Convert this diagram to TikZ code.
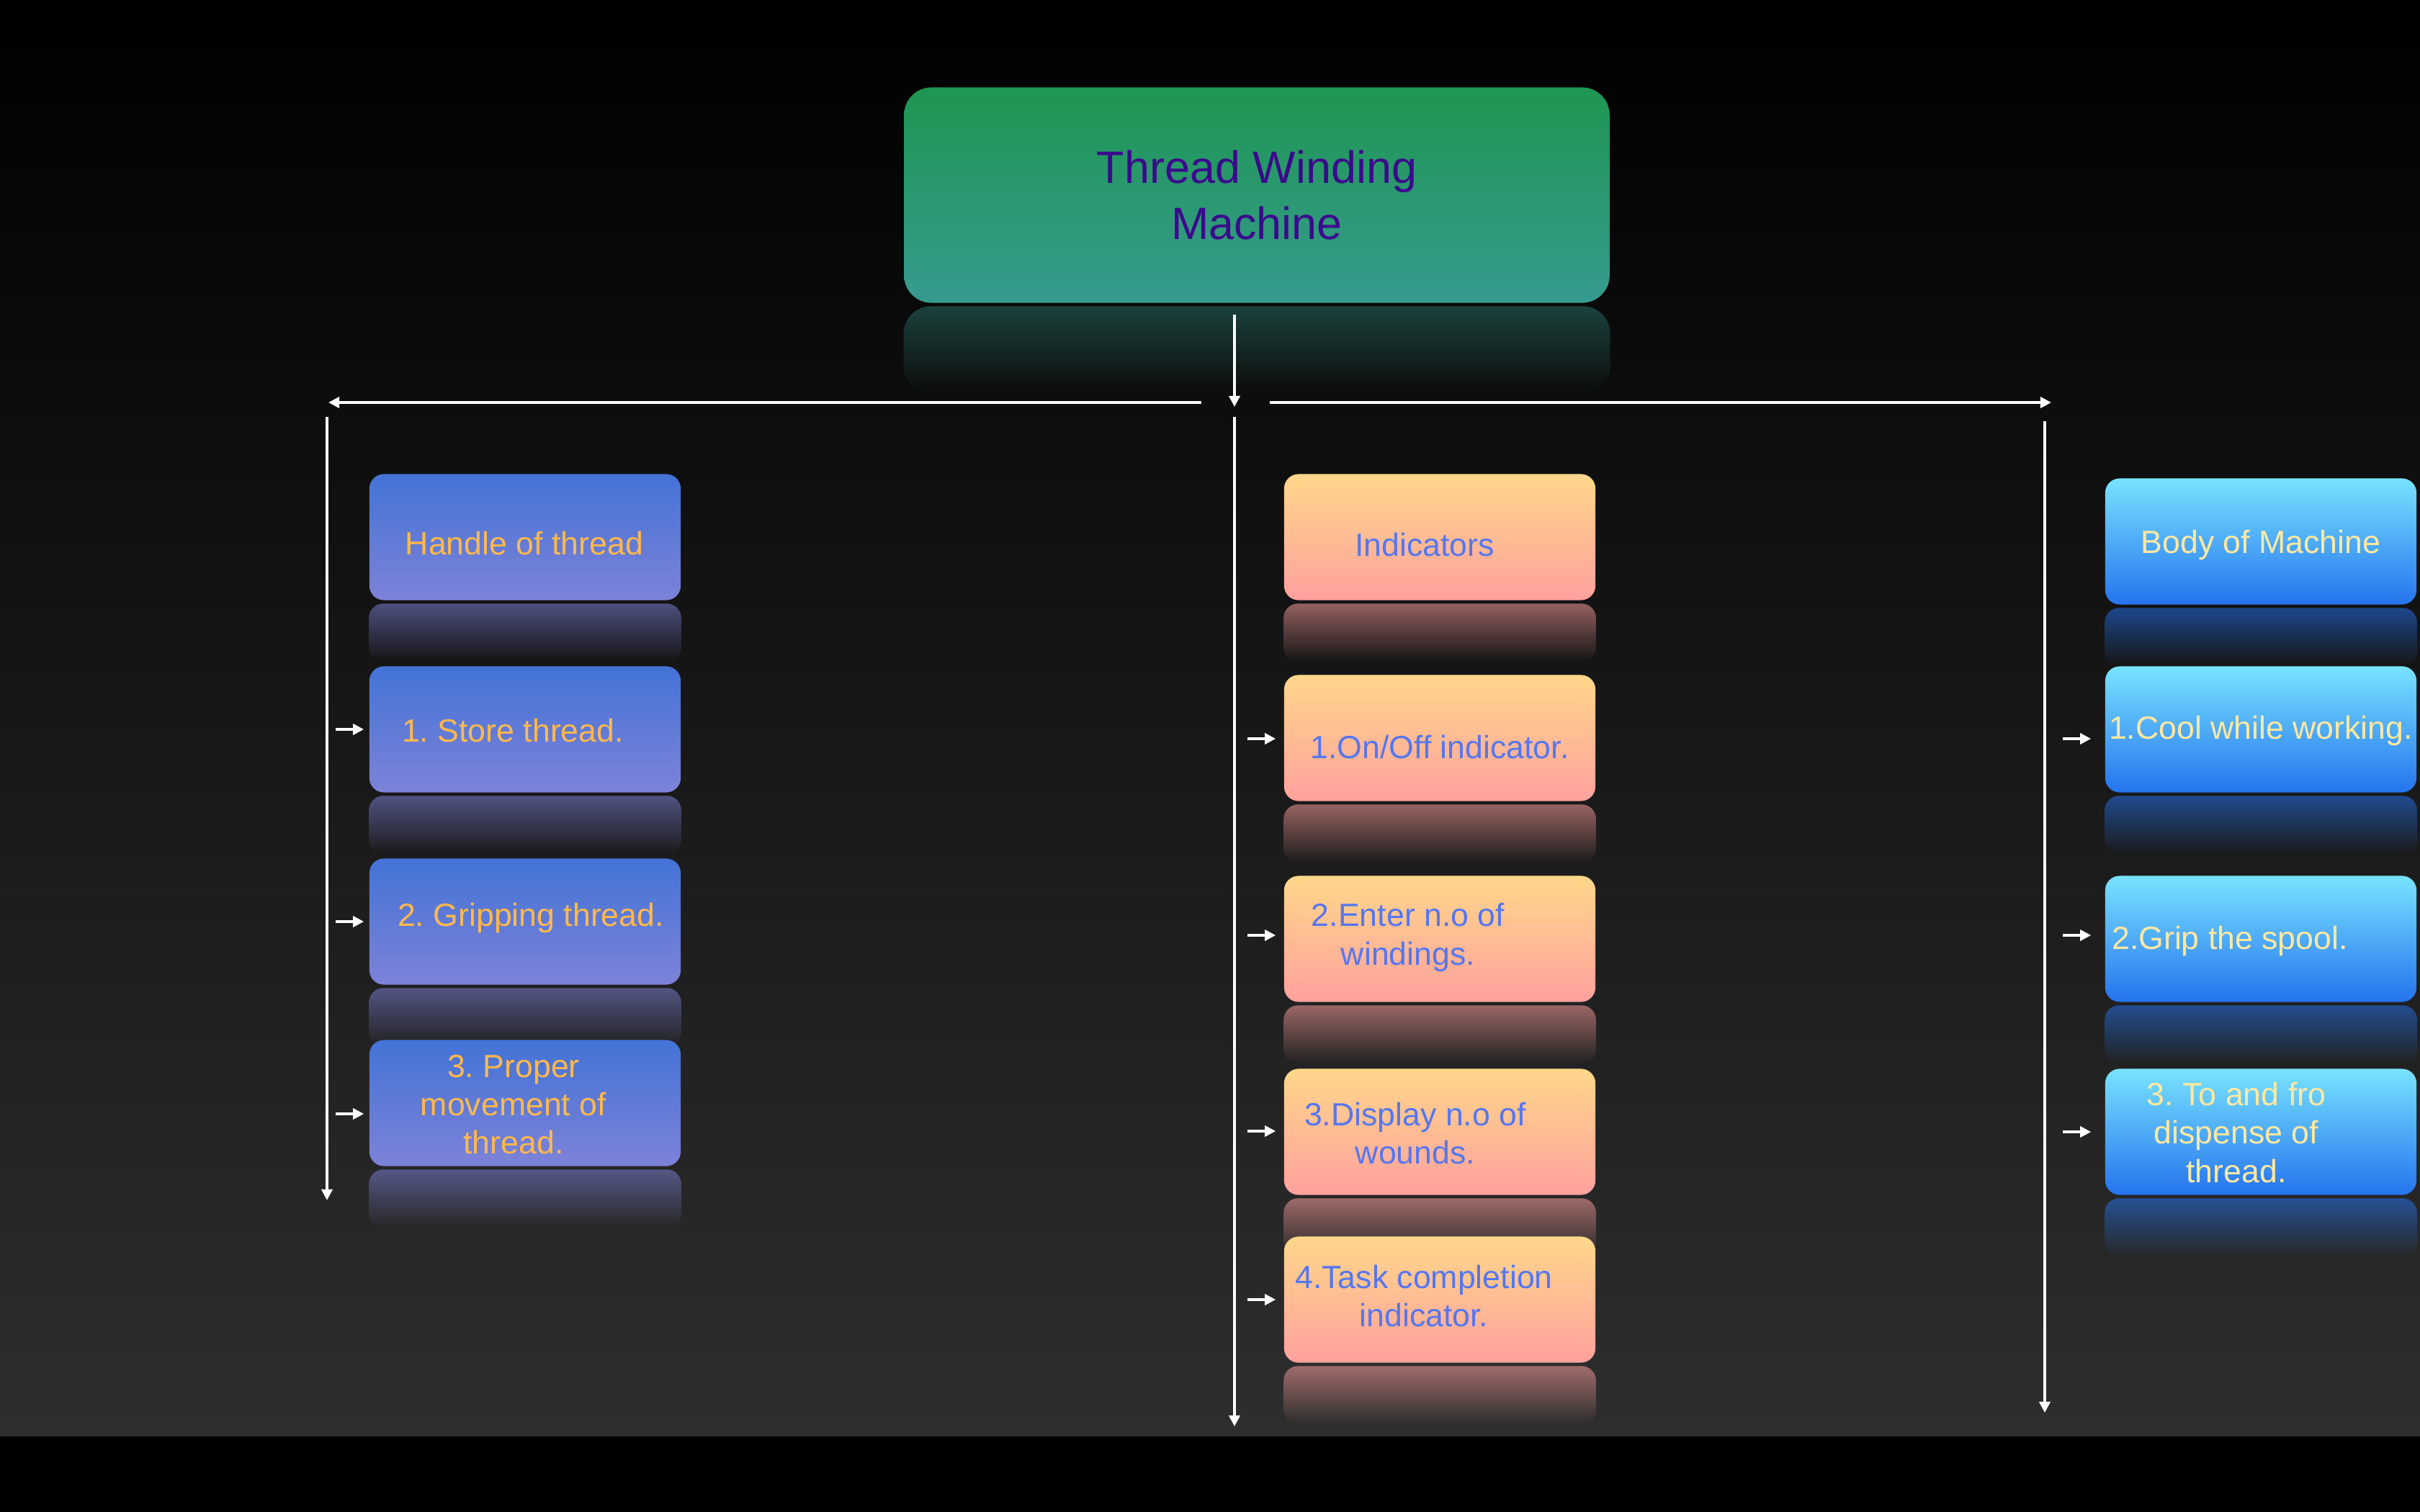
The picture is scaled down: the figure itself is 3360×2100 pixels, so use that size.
\documentclass[tikz,border=0pt]{standalone}
\usepackage{fontspec}
\setmainfont{Liberation Sans}
\frenchspacing
\usetikzlibrary{arrows.meta,fadings}

\definecolor{floor}{HTML}{2E2E2E}
\definecolor{titleA}{HTML}{1E9652}
\definecolor{titleB}{HTML}{379B8F}
\definecolor{titleT}{HTML}{3B0A8C}
\definecolor{handleA}{HTML}{4373D6}
\definecolor{handleB}{HTML}{7D82D8}
\definecolor{handleT}{HTML}{FFB84C}
\definecolor{indicA}{HTML}{FFD78A}
\definecolor{indicB}{HTML}{FFA19E}
\definecolor{indicT}{HTML}{5577F0}
\definecolor{bodyA}{HTML}{78E3FF}
\definecolor{bodyB}{HTML}{2574EE}
\definecolor{bodyT}{HTML}{FFE8A0}

\tikzfading[name=mirror, top color=transparent!45, middle color=transparent!85,
  bottom color=transparent!100]

\pgfdeclarelayer{backdrop}
\pgfdeclarelayer{glass}
\pgfsetlayers{backdrop,glass,main}

\tikzset{
  card/.style={rounded corners=0.2cm, minimum width=4.32cm, minimum height=1.75cm,
    inner sep=0pt},
  handle/.style={card, top color=handleA, bottom color=handleB},
  indic/.style={card, top color=indicA, bottom color=indicB},
  body/.style={card, top color=bodyA, bottom color=bodyB},
  label/.style={inner sep=0pt, align=center, font=\fontsize{12.7}{15.1}\selectfont},
  wire/.style={white, line width=1pt},
  tip/.style={wire, -{Triangle[length=4.3pt,width=4.3pt]}},
}

\begin{document}
\begin{tikzpicture}[x=0.01cm, y=-0.01cm]
\useasboundingbox (0,0) rectangle (3360,2100);
\begin{pgfonlayer}{backdrop}
  \fill[black] (0,0) rectangle (3360,2100);
  \shade[top color=black, bottom color=floor] (0,0) rectangle (3360,1994);
\end{pgfonlayer}

% machine
\node[rounded corners=0.38cm, minimum width=9.79cm, minimum height=2.99cm,
  top color=titleA, bottom color=titleB, text=titleT, align=center,
  font=\fontsize{17.9}{21.9}\selectfont] (top) at (1745,271) {Thread Winding\\Machine};

% handle of thread
\node[handle] (h0) at (729,746) {};
\node[handle] (h1) at (729,1013) {};
\node[handle] (h2) at (729,1280) {};
\node[handle] (h3) at (729,1532) {};

% indicators
\node[indic] (m0) at (1999,746) {};
\node[indic] (m1) at (1999,1025) {};
\node[indic] (m2) at (1999,1304) {};
\node[indic] (m3) at (1999,1572) {};
\node[indic] (m4) at (1999,1805) {};

% body of machine
\node[body] (r0) at (3139,752) {};
\node[body] (r1) at (3139,1013) {};
\node[body] (r2) at (3139,1304) {};
\node[body] (r3) at (3139,1572) {};

% texts
\foreach \n/\dx/\dy/\t in {h0/-1/9/{Handle of thread}, h1/-17/2/{1. Store thread.},
    h2/8/-5/{2. Gripping thread.}, h3/-16/2/{3. Proper\\movement of\\thread.}}
  \node[label, text=handleT] (\n-t) at ([shift={(\dx,\dy)}]\n) {\t};
\foreach \n/\dx/\dy/\t in {m0/-21/11/{Indicators}, m1/0/13/{1.On/Off indicator.},
    m2/-44/-2/{2.Enter n.o of\\windings.}, m3/-34/2/{3.Display n.o of\\wounds.},
    m4/-22/-5/{4.Task completion\\indicator.}}
  \node[label, text=indicT] (\n-t) at ([shift={(\dx,\dy)}]\n) {\t};
\foreach \n/\dx/\dy/\t in {r0/0/5/{Body of Machine}, r1/0/2/{1.Cool while working.},
    r2/-43/3/{2.Grip the spool.}, r3/-34/1/{3. To and fro\\dispense of\\thread.}}
  \node[label, text=bodyT] (\n-t) at ([shift={(\dx,\dy)}]\n) {\t};

% reflections
\begin{pgfonlayer}{glass}
  \fill[titleB, path fading=mirror, fill opacity=0.7, rounded corners=0.38cm]
    ([shift={(0,4)}]top.south west) rectangle ([shift={(0,125)}]top.south east);
  \foreach \n/\c in {h0/handleB,h1/handleB,h2/handleB,h3/handleB,
                     m0/indicB,m1/indicB,m2/indicB,m3/indicB,m4/indicB,
                     r0/bodyB,r1/bodyB,r2/bodyB,r3/bodyB}
    \fill[\c, path fading=mirror, rounded corners=0.2cm]
      ([shift={(0,4)}]\n.south west) rectangle ([shift={(0,85)}]\n.south east);
\end{pgfonlayer}

% trunk lines
\coordinate (drop) at (1714,437);
\coordinate (hub) at (1714,565);
\coordinate (lsplit) at (1668,559);
\coordinate (lend) at (456,559);
\coordinate (rsplit) at (1763,559);
\coordinate (rend) at (2848,559);
\coordinate (ltop) at (454,579);
\coordinate (lbot) at (454,1667);
\coordinate (mtop) at (1714,579);
\coordinate (mbot) at (1714,1981);
\coordinate (rtop) at (2839,585);
\coordinate (rbot) at (2839,1962);

\draw[tip] (drop) -- (hub);
\draw[tip] (lsplit) -- (lend);
\draw[tip] (rsplit) -- (rend);
\draw[tip] (ltop) -- (lbot);
\draw[tip] (mtop) -- (mbot);
\draw[tip] (rtop) -- (rbot);

% feeds into the items
\foreach \n/\dy in {h1/0,h2/0,h3/15}
  \draw[tip] ([shift={(-46,\dy)}]\n.west) -- ([shift={(-7,\dy)}]\n.west);
\foreach \n/\dy in {m1/1,m2/-5,m3/-1,m4/0}
  \draw[tip] ([shift={(-50,\dy)}]\n.west) -- ([shift={(-11,\dy)}]\n.west);
\foreach \n/\dy in {r1/13,r2/-5,r3/0}
  \draw[tip] ([shift={(-58,\dy)}]\n.west) -- ([shift={(-19,\dy)}]\n.west);
\end{tikzpicture}
\end{document}
